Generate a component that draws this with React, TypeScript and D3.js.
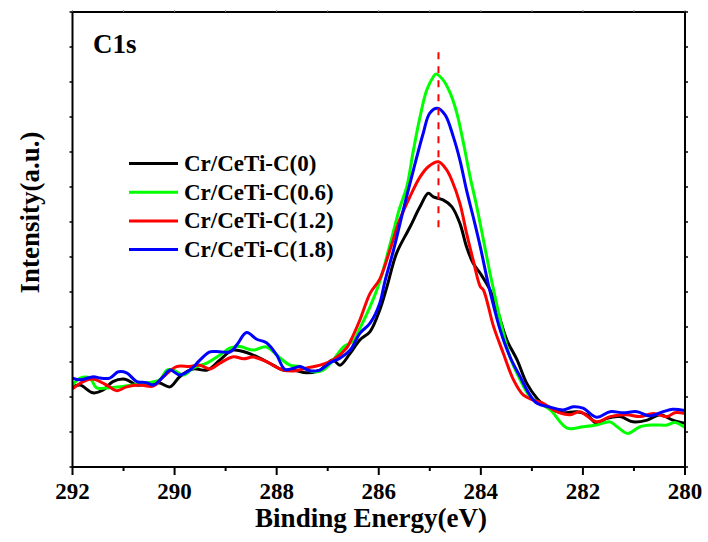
import * as d3 from 'd3';

// C1s XPS spectra, binding energy (eV) vs intensity (a.u.)
const seriesNames = ['Cr/CeTi-C(0)', 'Cr/CeTi-C(0.6)', 'Cr/CeTi-C(1.2)', 'Cr/CeTi-C(1.8)'];

const c0: [number, number][] = [
  [292.0, 2.29], [291.85, 2.34], [291.6, 2.12], [291.4, 2.2], [291.21, 2.44], [290.97, 2.51],
  [290.74, 2.34], [290.48, 2.4], [290.29, 2.4], [290.09, 2.29], [289.9, 2.58], [289.64, 2.8],
  [289.36, 2.77], [289.11, 3.06], [288.86, 3.34], [288.59, 3.27], [288.33, 3.11], [288.07, 2.91],
  [287.88, 2.77], [287.68, 2.77], [287.41, 2.69], [287.15, 2.77], [286.9, 3.06], [286.76, 2.91],
  [286.56, 3.25], [286.37, 3.63], [286.17, 3.87], [285.98, 4.49], [285.84, 5.15], [285.65, 6.11],
  [285.39, 6.85], [285.19, 7.44], [285.03, 7.82], [284.93, 7.72], [284.74, 7.63], [284.57, 7.44],
  [284.41, 6.96], [284.28, 6.29], [284.15, 5.82], [284.01, 5.53], [283.82, 5.06], [283.68, 4.49],
  [283.49, 3.63], [283.29, 3.06], [283.1, 2.39], [282.9, 1.96], [282.84, 1.87], [282.59, 1.63],
  [282.39, 1.55], [282.12, 1.58], [281.92, 1.49], [281.73, 1.25], [281.53, 1.39], [281.27, 1.44],
  [281.02, 1.29], [280.74, 1.34], [280.49, 1.49], [280.24, 1.34], [280.0, 1.25],
];

const c06: [number, number][] = [
  [292.0, 2.34], [291.85, 2.54], [291.66, 2.54], [291.53, 2.26], [291.33, 2.26], [291.07, 2.29],
  [290.81, 2.34], [290.55, 2.4], [290.29, 2.49], [290.15, 2.77], [290.03, 2.77], [289.83, 2.63],
  [289.63, 2.83], [289.37, 2.97], [289.11, 3.2], [288.91, 3.4], [288.72, 3.44], [288.46, 3.34],
  [288.2, 3.43], [287.93, 3.11], [287.74, 2.91], [287.54, 2.87], [287.28, 2.72], [287.09, 2.77],
  [286.89, 3.06], [286.69, 3.43], [286.5, 3.6], [286.37, 3.96], [286.17, 4.58], [285.98, 5.3],
  [285.78, 6.35], [285.59, 7.4], [285.45, 8.01], [285.32, 9.06], [285.19, 10.01], [285.06, 10.77],
  [284.93, 11.15], [284.88, 11.23], [284.74, 11.06], [284.6, 10.68], [284.47, 10.11], [284.34, 9.25],
  [284.21, 8.29], [284.08, 7.44], [283.95, 6.49], [283.82, 5.53], [283.75, 5.06], [283.62, 4.2],
  [283.43, 3.15], [283.23, 2.49], [283.04, 2.01], [282.9, 1.87], [282.64, 1.63], [282.31, 1.11],
  [282.0, 1.15], [281.73, 1.2], [281.47, 1.29], [281.33, 1.15], [281.12, 0.96], [280.88, 1.15],
  [280.62, 1.2], [280.35, 1.2], [280.2, 1.27], [280.0, 1.13],
];

const c12: [number, number][] = [
  [292.0, 2.23], [291.79, 2.44], [291.59, 2.51], [291.33, 2.34], [291.13, 2.18], [290.94, 2.29],
  [290.68, 2.34], [290.42, 2.31], [290.22, 2.58], [289.96, 2.87], [289.7, 2.87], [289.5, 2.91],
  [289.31, 2.8], [289.11, 2.97], [288.85, 3.15], [288.65, 3.09], [288.46, 3.14], [288.2, 3.01],
  [287.93, 2.8], [287.67, 2.74], [287.41, 2.83], [287.15, 2.91], [286.89, 3.06], [286.63, 3.4],
  [286.56, 3.58], [286.37, 4.2], [286.17, 4.96], [285.98, 5.37], [285.78, 6.2], [285.59, 7.06],
  [285.39, 7.72], [285.19, 8.29], [285.03, 8.58], [284.83, 8.72], [284.67, 8.49], [284.57, 8.2],
  [284.41, 7.53], [284.28, 6.68], [284.15, 5.91], [284.01, 5.15], [283.95, 5.06], [283.75, 4.01],
  [283.56, 3.25], [283.36, 2.49], [283.17, 2.06], [282.97, 1.91], [282.78, 1.82], [282.51, 1.58],
  [282.25, 1.49], [282.06, 1.58], [281.73, 1.29], [281.47, 1.44], [281.14, 1.49], [280.88, 1.44],
  [280.62, 1.53], [280.35, 1.44], [280.2, 1.55], [280.0, 1.53],
];

const c18: [number, number][] = [
  [292.0, 2.54], [291.85, 2.49], [291.59, 2.58], [291.46, 2.54], [291.27, 2.54], [291.1, 2.72],
  [290.94, 2.69], [290.74, 2.44], [290.55, 2.41], [290.42, 2.34], [290.22, 2.58], [290.09, 2.77],
  [289.9, 2.63], [289.7, 2.77], [289.5, 3.06], [289.31, 3.29], [289.11, 3.29], [288.91, 3.29],
  [288.78, 3.49], [288.59, 3.84], [288.39, 3.65], [288.2, 3.55], [288.0, 3.2], [287.84, 2.79],
  [287.67, 2.82], [287.54, 2.87], [287.35, 2.75], [287.15, 2.77], [286.96, 2.97], [286.76, 3.11],
  [286.56, 3.34], [286.37, 3.82], [286.17, 4.11], [285.98, 4.68], [285.88, 5.3], [285.71, 6.2],
  [285.52, 7.34], [285.32, 8.49], [285.13, 9.53], [285.0, 10.11], [284.85, 10.25], [284.7, 10.06],
  [284.54, 9.44], [284.41, 8.77], [284.28, 7.91], [284.15, 7.15], [284.01, 6.29], [283.85, 5.2],
  [283.62, 3.91], [283.43, 3.15], [283.23, 2.58], [283.04, 2.06], [282.9, 1.82], [282.64, 1.71],
  [282.39, 1.63], [282.19, 1.72], [282.0, 1.68], [281.73, 1.42], [281.47, 1.58], [281.21, 1.55],
  [280.94, 1.58], [280.69, 1.46], [280.43, 1.58], [280.24, 1.65], [280.0, 1.61],
];

const seriesData = [c0, c06, c12, c18];
const energyTicks = [292, 290, 288, 286, 284, 282, 280];
const energyMinorTicks = [291, 289, 287, 285, 283, 281];
const intensityTicks = d3.range(0, 14);
const peakEnergy = 284.83;
const peakMarkRange = [6.7, 11.85];

const colors = ['#000000', '#00ff00', '#ff0000', '#0000ff'];
const textStyle = { fontFamily: "'Liberation Serif', 'DejaVu Serif', serif", fontWeight: 700 };

export default function App() {
  const width = 708;
  const height = 542;
  const left = 72.5, right = 685, top = 12, bottom = 467;

  const x = d3.scaleLinear().domain([292, 280]).range([left, right]);
  const y = d3.scaleLinear().domain([0, 13]).range([bottom, top]);

  const line = d3.line<[number, number]>()
    .x(d => x(d[0]))
    .y(d => y(d[1]))
    .curve(d3.curveCatmullRom.alpha(0.5));

  const allTicksX = [...energyTicks, ...energyMinorTicks];

  return (
    <svg width={width} height={height} style={{ position: 'absolute', left: 0, top: 0, background: '#fff' }}>
      <defs>
        <clipPath id="plot">
          <rect x={left} y={top} width={right - left} height={bottom - top} />
        </clipPath>
      </defs>

      {/* curves */}
      <g clipPath="url(#plot)" fill="none" strokeWidth={3} strokeLinejoin="round">
        {seriesData.map((s, i) => (
          <path key={i} d={line(s) || ''} stroke={colors[i]} />
        ))}
      </g>

      {/* peak marker */}
      <line
        x1={x(peakEnergy)} x2={x(peakEnergy)}
        y1={y(peakMarkRange[1])} y2={y(peakMarkRange[0])}
        stroke="#ff0000" strokeWidth={2} strokeDasharray="7,7"
      />

      {/* frame */}
      <rect x={left} y={top} width={right - left} height={bottom - top} fill="none" stroke="#000" strokeWidth={2} />

      {/* bottom ticks */}
      {energyTicks.map(t => (
        <line key={'M' + t} x1={x(t)} x2={x(t)} y1={bottom} y2={bottom + 8} stroke="#000" strokeWidth={2} />
      ))}
      {energyMinorTicks.map(t => (
        <line key={'m' + t} x1={x(t)} x2={x(t)} y1={bottom} y2={bottom + 4} stroke="#000" strokeWidth={2} />
      ))}
      {/* top ticks */}
      {allTicksX.map(t => (
        <line key={'t' + t} x1={x(t)} x2={x(t)} y1={top} y2={top - 2} stroke="#888" strokeWidth={1} />
      ))}
      {/* left / right ticks */}
      {intensityTicks.map(t => (
        <g key={'y' + t}>
          <line x1={left} x2={left - 3} y1={y(t)} y2={y(t)} stroke="#000" strokeWidth={1.5} />
          <line x1={right} x2={right + 3} y1={y(t)} y2={y(t)} stroke="#000" strokeWidth={1.5} />
        </g>
      ))}

      {/* tick labels */}
      {energyTicks.map(t => (
        <text key={'l' + t} x={x(t)} y={499} textAnchor="middle" style={textStyle} fontSize={23}>
          {t}
        </text>
      ))}

      {/* axis titles */}
      <text x={371} y={527} textAnchor="middle" style={textStyle} fontSize={27}>
        Binding Energy(eV)
      </text>
      <text
        transform={`translate(38.5,212.5) rotate(-90)`}
        textAnchor="middle" style={textStyle} fontSize={27}
      >
        Intensity(a.u.)
      </text>

      <text x={93} y={53} style={textStyle} fontSize={27}>C1s</text>

      {/* legend */}
      {seriesNames.map((name, i) => (
        <g key={name} transform={`translate(129,${163.5 + i * 28.7})`}>
          <line x1={0} x2={49} y1={0} y2={0} stroke={colors[i]} strokeWidth={3} />
          <text x={55} y={7.5} style={textStyle} fontSize={23}>{name}</text>
        </g>
      ))}
    </svg>
  );
}
